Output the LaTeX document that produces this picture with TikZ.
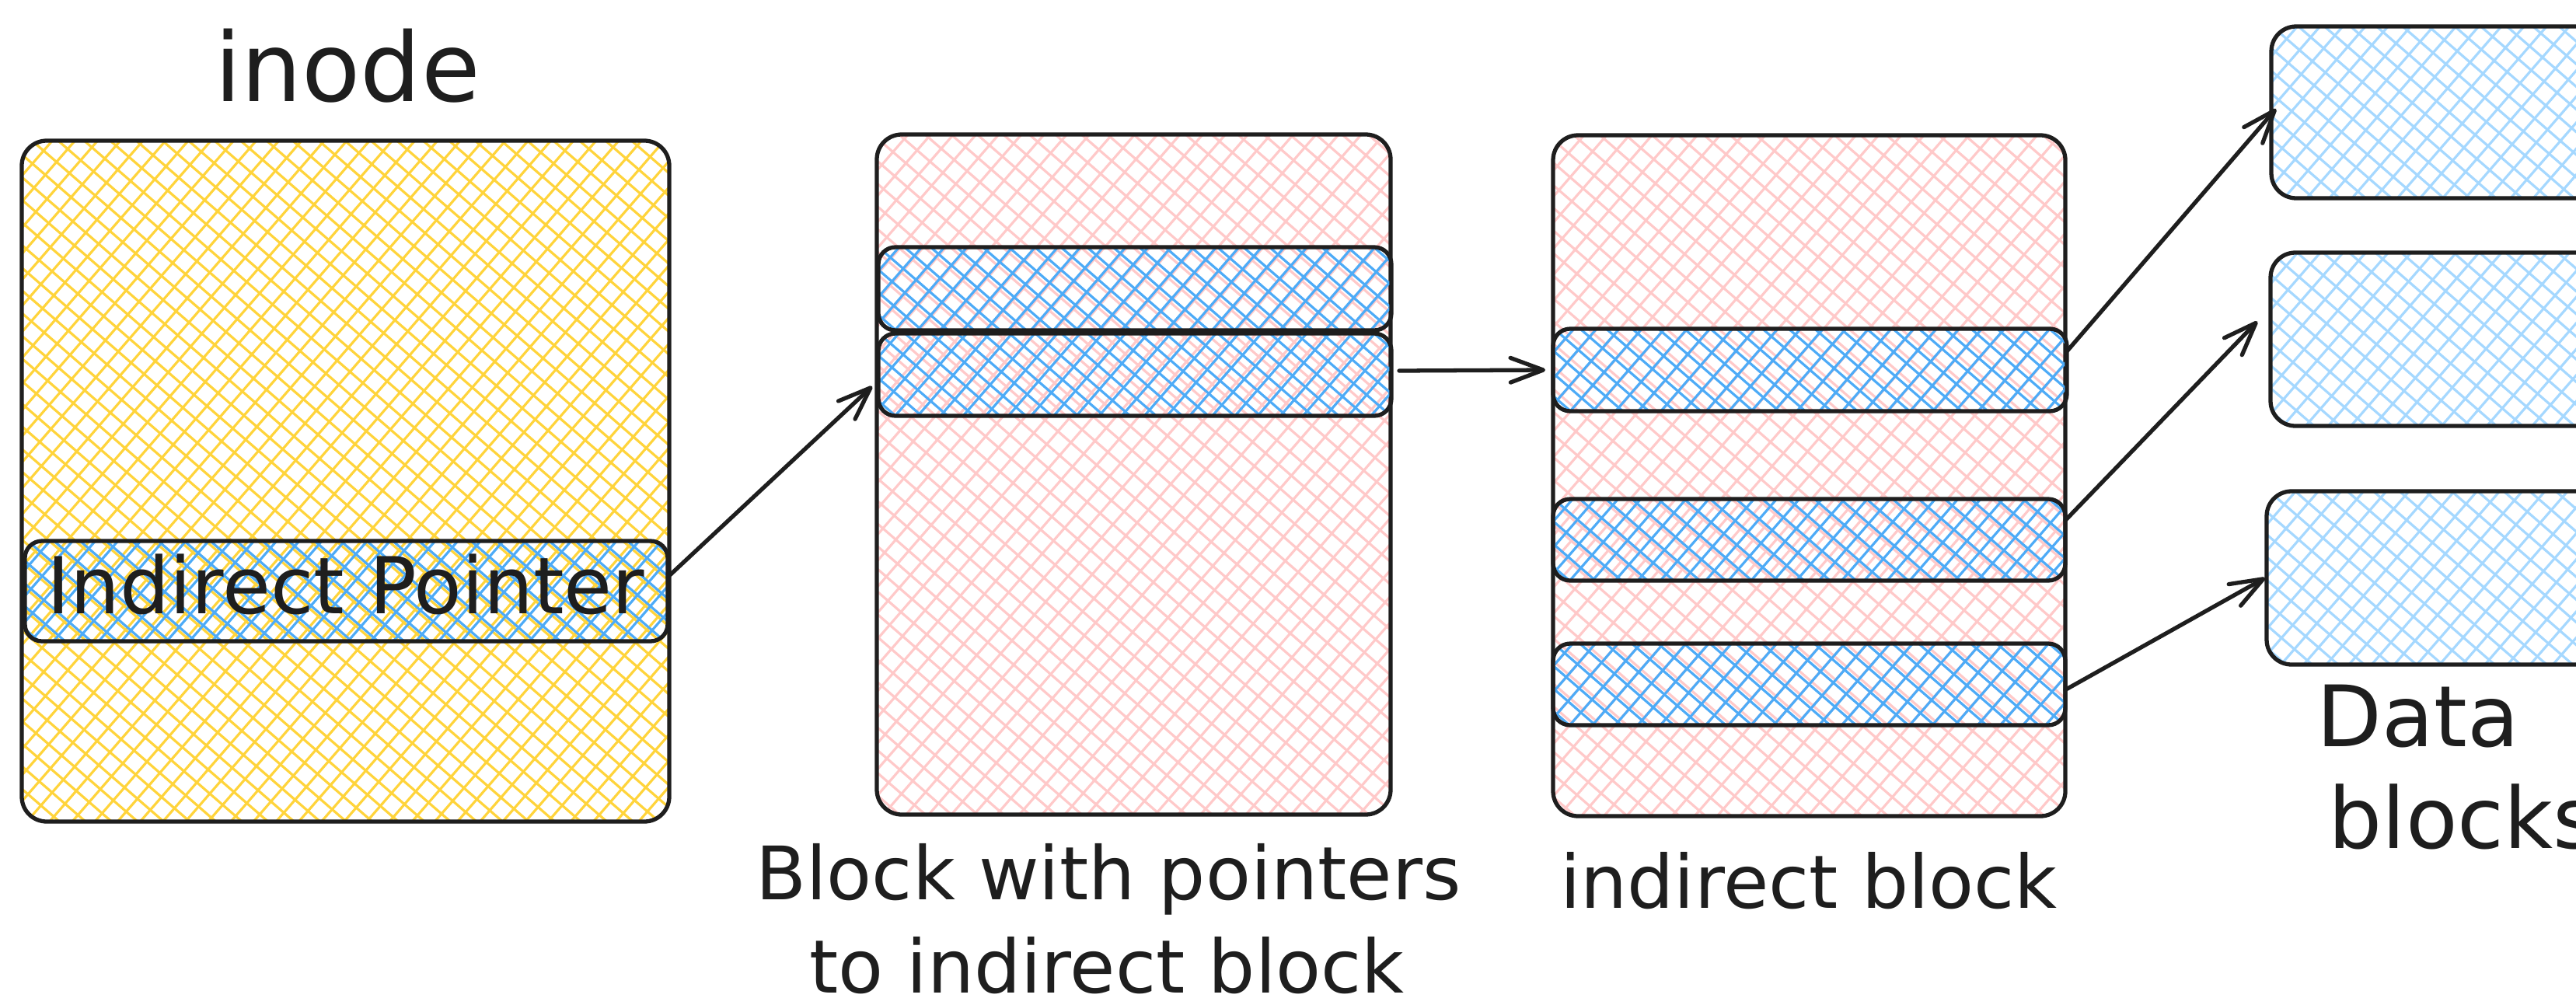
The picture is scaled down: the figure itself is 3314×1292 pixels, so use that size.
\documentclass[tikz,border=0pt]{standalone}
\usepackage{fontspec}
\setmainfont{DejaVu Sans}
\usetikzlibrary{arrows.meta}

\definecolor{ink}{HTML}{1E1E1E}
\definecolor{hyellow}{HTML}{FFD43B}
\definecolor{hpink}{HTML}{FFC9C9}
\definecolor{hblue}{HTML}{4DABF7}
\definecolor{hlight}{HTML}{A5D8FF}

\tikzset{
  % cross-hatched interior: two families of parallel lines, 22 units apart
  hatch/.style={path picture={
    \begin{scope}[shift={(path picture bounding box.center)}]
      \foreach \k in {-30,...,30}{
        \draw[#1, line width=0.9pt]
          ({-\k*22*sin(41)-700*cos(41)},{\k*22*cos(41)-700*sin(41)}) --
          ({-\k*22*sin(41)+700*cos(41)},{\k*22*cos(41)+700*sin(41)});
        \draw[#1, line width=0.9pt]
          ({\k*22*cos(41)+700*sin(41)},{\k*22*sin(41)-700*cos(41)}) --
          ({\k*22*cos(41)-700*sin(41)},{\k*22*sin(41)+700*cos(41)});
      }
    \end{scope}
  }},
  bigbox/.style={draw=ink, line width=1.5pt, rounded corners=3.2mm,
    inner sep=0pt, outer sep=0pt},
  rowbox/.style={draw=ink, line width=1.5pt, rounded corners=2.2mm,
    inner sep=0pt, outer sep=0pt, hatch=hblue},
  lbl/.style={text=ink, inner sep=0pt, anchor=base,
    font=\fontsize{27}{32}\selectfont},
  arr/.style={draw=ink, line width=1.5pt, line cap=round, line join=round,
    -{Straight Barb[length=12pt,width=9pt,round]}}
}

\begin{document}
\begin{tikzpicture}[x=0.1mm,y=-0.1mm]
\path[use as bounding box, fill=white] (0,0) rectangle (3314,1292);
\clip (0,0) rectangle (3314,1292);

% inode with its indirect pointer slot
\node[lbl, font=\fontsize{35}{40}\selectfont] (title) at (447,130) {inode};
\node[bigbox, hatch=hyellow, minimum width=83.3mm, minimum height=87.6mm]
  (inode) at (444.5,619) {};
\node[rowbox, minimum width=82.7mm, minimum height=12.9mm]
  (ptr) at (445.5,760.5) {};
\node[lbl, font=\fontsize{28.7}{34}\selectfont] (ptrlbl) at (445,789) {Indirect Pointer};

% block holding pointers to indirect blocks
\node[bigbox, hatch=hpink, minimum width=66.1mm, minimum height=87.5mm]
  (blockP) at (1458.5,610.5) {};
\node[rowbox, minimum width=66mm, minimum height=10.7mm] (p1) at (1460,371.5) {};
\node[rowbox, minimum width=66mm, minimum height=10.6mm] (p2) at (1460,482) {};
\node[lbl] (lblP1) at (1426,1157) {Block with pointers};
\node[lbl] (lblP2) at (1424,1277) {to indirect block};

% indirect block
\node[bigbox, hatch=hpink, minimum width=65.9mm, minimum height=87.6mm]
  (blockI) at (2327.5,612) {};
\node[rowbox, minimum width=66.1mm, minimum height=10.6mm] (i1) at (2328.5,476) {};
\node[rowbox, minimum width=65.9mm, minimum height=10.5mm] (i2) at (2327.5,694.5) {};
\node[rowbox, minimum width=65.9mm, minimum height=10.5mm] (i3) at (2327.5,880.5) {};
\node[lbl] (lblI) at (2327,1168) {indirect block};

% data blocks
\node[bigbox, hatch=hlight, minimum width=45.8mm, minimum height=22.1mm]
  (d1) at (3151,144.5) {};
\node[bigbox, hatch=hlight, minimum width=45.9mm, minimum height=22.3mm]
  (d2) at (3150.5,436.5) {};
\node[bigbox, hatch=hlight, minimum width=46.4mm, minimum height=22.3mm]
  (d3) at (3148,743.5) {};
\node[lbl, anchor=base west, font=\fontsize{31}{36}\selectfont] (lblD1) at (2980,960) {Data};
\node[lbl, anchor=base west, font=\fontsize{31}{36}\selectfont] (lblD2) at (2995,1091) {blocks};

% pointer connectors
\draw[arr] ([yshift=1.8mm]ptr.east) -- ([xshift=-0.8mm,yshift=-1.5mm]p2.west);
\draw[arr] ([xshift=1mm,yshift=0.5mm]p2.east) -- ([xshift=-1mm]i1.west);
\draw[arr] ([yshift=2.4mm]i1.east) -- ([xshift=0.6mm,yshift=0.45mm]d1.west);
\draw[arr] ([yshift=2.5mm]i2.east) -- ([xshift=-1.7mm,yshift=2.3mm]d2.west);
\draw[arr] ([yshift=-0.7mm]i3.east) -- ([xshift=-0.2mm]d3.west);
\end{tikzpicture}
\end{document}
